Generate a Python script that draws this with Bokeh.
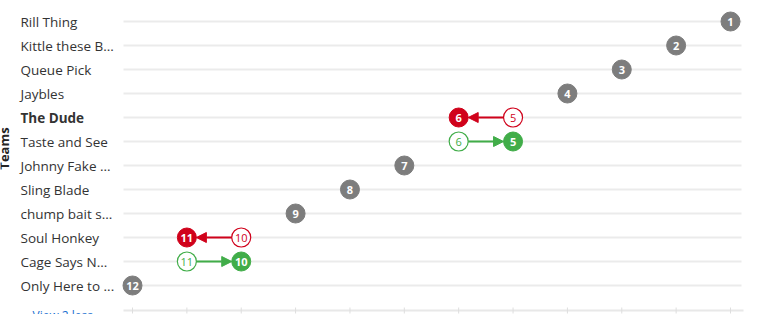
import numpy as np
from bokeh.plotting import figure
from bokeh.models import ColumnDataSource, Range1d, Arrow, NormalHead
from bokeh.core.properties import value
from bokeh.embed import file_html
from bokeh.resources import INLINE

# ---- data -------------------------------------------------------------
teams = ["Rill Thing", "Kittle these B...", "Queue Pick", "Jaybles", "The Dude",
         "Taste and See", "Johnny Fake ...", "Sling Blade", "chump bait s...",
         "Soul Honkey", "Cage Says N...", "Only Here to ..."]
current_rank = [1, 2, 3, 4, 6, 5, 7, 8, 9, 11, 10, 12]
previous_rank = [1, 2, 3, 4, 5, 6, 7, 8, 9, 10, 11, 12]
highlight_team = "The Dude"
rank_ticks = list(range(1, 13))

# ---- layout constants (pixels) -----------------------------------------
W, H = 772, 314
FONT = "Open Sans"
GRAY, RED, GREEN = "#7d7d7d", "#d0021b", "#41ad49"
X_BEST, X_WORST = 730, 132          # pixel x of rank 1 and of rank 12
ROW0, ROW_STEP = 21, 24             # pixel y of first row, row spacing
AXIS_Y = 310                        # pixel y of the rank axis line
R_PX = 9.5                          # marker radius
GUIDE_LEFT, GUIDE_RIGHT = 123, 741

n = len(teams)
px_per_rank = (X_BEST - X_WORST) / (n - 1)


def rank_at(px):
    return 1 + (X_BEST - px) / px_per_rank


def row_at(py):
    return (py - ROW0) / ROW_STEP


rows = list(range(n))

p = figure(width=W, height=H, output_backend="svg", toolbar_location=None,
           x_range=Range1d(rank_at(0), rank_at(W)),
           y_range=Range1d(row_at(H), row_at(0)),
           min_border=0, outline_line_color=None)
p.background_fill_color = "white"
p.border_fill_color = "white"
p.xaxis.visible = False
p.yaxis.visible = False
p.xgrid.visible = False
p.ygrid.visible = False

# horizontal row guides
p.segment(x0=[rank_at(GUIDE_LEFT)] * n, x1=[rank_at(GUIDE_RIGHT)] * n,
          y0=rows, y1=rows, line_color="#ebebeb", line_width=2)

# rank axis at the bottom: base line plus a small tick at every rank
p.segment(x0=[rank_at(GUIDE_LEFT)], x1=[rank_at(GUIDE_RIGHT + 2)],
          y0=[row_at(AXIS_Y)], y1=[row_at(AXIS_Y)],
          line_color="#e8e8e8", line_width=2)
p.segment(x0=rank_ticks, x1=rank_ticks,
          y0=[row_at(AXIS_Y - 3)] * len(rank_ticks),
          y1=[row_at(AXIS_Y + 3)] * len(rank_ticks),
          line_color="#dedede", line_width=1)

# team names
names = ColumnDataSource(dict(
    x=[rank_at(20)] * n, y=rows, text=teams,
    style=["bold" if t == highlight_team else "normal" for t in teams]))
p.text(x="x", y="y", text="text", source=names, text_font=value(FONT),
       text_font_size="13.5px", text_color="#333333", text_font_style="style",
       text_align="left", text_baseline="middle")

# "Teams" title
p.text(x=[rank_at(3)], y=[row_at(148)], text=["Teams"], angle=np.pi / 2,
       text_font=value(FONT), text_font_size="13px", text_font_style="bold",
       text_color="#252423", text_align="center", text_baseline="middle")

# movement arrows from previous to current rank
off = R_PX / px_per_rank
for i, (c, pr) in enumerate(zip(current_rank, previous_rank)):
    if c == pr:
        continue
    col = RED if c > pr else GREEN
    d = np.sign(c - pr)
    p.add_layout(Arrow(x_start=pr + d * off, y_start=i, x_end=c - d * off, y_end=i,
                       line_color=col, line_width=2,
                       end=NormalHead(size=10, fill_color=col, line_color=col)))

# previous-rank rings
moved = [i for i in rows if current_rank[i] != previous_rank[i]]
ring = ColumnDataSource(dict(
    x=[previous_rank[i] for i in moved], y=moved,
    label=[str(previous_rank[i]) for i in moved],
    color=[RED if current_rank[i] > previous_rank[i] else GREEN for i in moved]))
p.scatter(x="x", y="y", source=ring, size=2 * R_PX, fill_color="white",
          line_color="color", line_width=1.2)
p.text(x="x", y="y", text="label", source=ring, text_font=value(FONT),
       text_font_size="11px", text_color="color", text_align="center",
       text_baseline="middle")

# current-rank badges
cur_colors = [GRAY if c == pr else (RED if c > pr else GREEN)
              for c, pr in zip(current_rank, previous_rank)]
cur = ColumnDataSource(dict(x=current_rank, y=rows,
                            label=[str(c) for c in current_rank], color=cur_colors))
p.scatter(x="x", y="y", source=cur, size=2 * R_PX, fill_color="color",
          line_color="color")
p.text(x="x", y="y", text="label", source=cur, text_font=value(FONT),
       text_font_size="11px", text_font_style="bold", text_color="white",
       text_align="center", text_baseline="middle")

# expand/collapse link
p.text(x=[rank_at(32)], y=[row_at(314.5)], text=["View 2 less ›"],
       text_font=value(FONT), text_font_size="12px", text_color="#1a6fd0",
       text_align="left", text_baseline="alphabetic")

open("out.html", "w").write(file_html(p, INLINE))
